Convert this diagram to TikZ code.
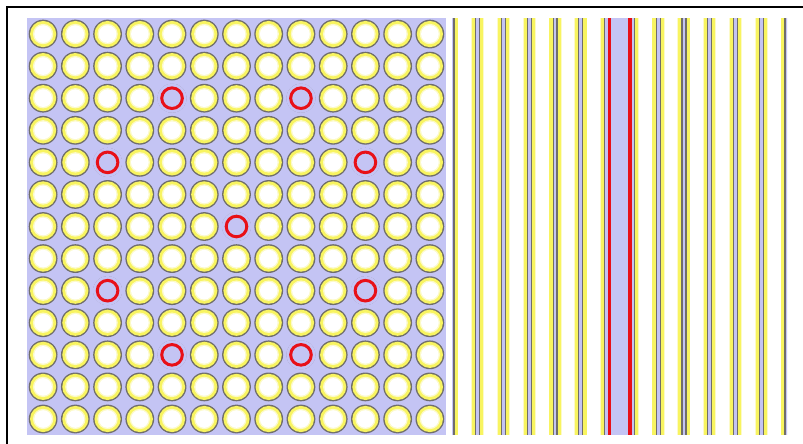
\documentclass[tikz,border=0pt]{standalone}
\definecolor{lav}{RGB}{196,196,244}
\definecolor{pinyel}{RGB}{248,244,96}
\definecolor{paleyel}{RGB}{252,250,200}
\definecolor{clad}{RGB}{112,110,106}
\definecolor{gtred}{RGB}{232,16,24}
\tikzset{
  coolant/.style={fill=lav},
  cladding/.style={fill=clad},
  fuelrim/.style={fill=pinyel},
  fuelmid/.style={fill=paleyel},
  fuelcore/.style={fill=white},
  guidering/.style={draw=gtred, line width=3pt},
  guideband/.style={fill=gtred},
  frame/.style={draw=black, line width=2pt}
}
\begin{document}
\begin{tikzpicture}[x=1pt,y=-1pt]
\useasboundingbox (0,0) rectangle (803,444);
\fill[white] (0,0) rectangle (803,444);
\draw[frame] (7,444) -- (7,7) -- (803,7);
% left panel: cross-section
\fill[coolant] (27,18) rectangle (446,435);
\foreach \i in {0,...,12} {
  \foreach \j in {0,...,12} {
    \pgfmathsetmacro\cx{27+(\i+0.5)*32.23}
    \pgfmathsetmacro\cy{18+(\j+0.5)*32.08}
    \fill[cladding] (\cx,\cy) circle (14.4);
    \fill[fuelrim] (\cx,\cy) circle (13.1);
    \fill[fuelmid] (\cx,\cy) circle (10.2);
    \fill[fuelcore] (\cx,\cy) circle (8.8);
  }
}
\foreach \i/\j in {4/2,8/2,2/4,10/4,6/6,2/8,10/8,4/10,8/10} {
  \pgfmathsetmacro\cx{27+(\i+0.5)*32.23}
  \pgfmathsetmacro\cy{18+(\j+0.5)*32.08}
  \fill[coolant] (\cx,\cy) circle (14.6);
  \draw[guidering] (\cx,\cy) circle (10.3);
}
% right panel: axial view of the middle row
\begin{scope}
\clip (452,18) rectangle (787,435);
\fill[white] (452,18) rectangle (787,435);
\foreach \k in {0,...,13} {
  \pgfmathsetmacro\bx{452+\k*25.77}
  \fill[coolant] (\bx-1.7,18) rectangle (\bx+1.7,435);
}
\foreach \k in {0,...,5,7,8,...,12} {
  \pgfmathsetmacro\c{452+(\k+0.5)*25.77}
  \fill[cladding] (\c-11.5,18) rectangle (\c+11.5,435);
  \fill[fuelrim] (\c-10.3,18) rectangle (\c+10.3,435);
  \fill[fuelmid] (\c-7.2,18) rectangle (\c+7.2,435);
  \fill[fuelcore] (\c-6.4,18) rectangle (\c+6.4,435);
}
\pgfmathsetmacro\c{452+6.5*25.77}
\fill[coolant] (\c-12.5,18) rectangle (\c+12.5,435);
\fill[guideband] (\c-12.0,18) rectangle (\c-8.8,435);
\fill[guideband] (\c+8.8,18) rectangle (\c+12.0,435);
\end{scope}
\end{tikzpicture}
\end{document}
